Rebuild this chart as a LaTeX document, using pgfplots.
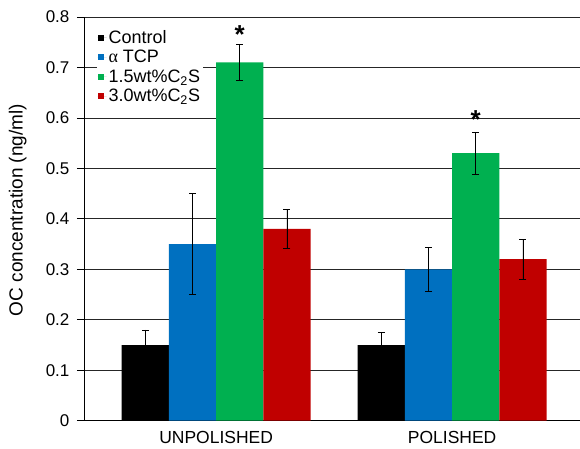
\documentclass[border=0pt]{standalone}
\usepackage{fontspec}
\setmainfont{Liberation Sans}
\newfontfamily\serifgr{Liberation Serif}
\usepackage{pgfplots}
\pgfplotsset{compat=1.18}
\definecolor{cblue}{RGB}{0,112,192}
\definecolor{cgreen}{RGB}{0,176,80}
\definecolor{cred}{RGB}{192,0,0}
\begin{document}
\begin{tikzpicture}[font=\fontsize{17}{20}\selectfont]
\begin{axis}[
  scale only axis,
  width=496pt, height=404pt,
  ymin=0, ymax=0.8,
  xmin=-0.56, xmax=1.54,
  ybar=0pt, bar width=0.2,
  ytick={0,0.1,...,0.8},
  yticklabel style={/pgf/number format/fixed,/pgf/number format/precision=1, xshift=-4pt},
  /pgf/number format/assume math mode=true,
  xtick={0,1}, xticklabels={UNPOLISHED,POLISHED},
  x tick style={draw=none},
  y tick style={black, line width=0.8pt},
  tick align=outside, major tick length=7pt,
  axis x line*=bottom, axis y line*=left,
  axis line style={black, line width=0.8pt, -},
  ymajorgrids, major grid style={black!85, line width=0.8pt},
  tick label style={font=\fontsize{17}{20}\selectfont},
  xticklabel style={font=\fontsize{17.5}{20}\selectfont},
  label style={font=\fontsize{19}{22}\selectfont},
  ylabel={OC concentration (ng/ml)},
  ylabel style={at={(axis description cs:-0.1335,0.522)}, anchor=center},
  legend style={at={(0.025,0.975)}, anchor=north west, draw=none, fill=white,
    font=\fontsize{18}{21}\selectfont, row sep=1.5pt, inner sep=1pt},
  legend cell align=left,
  legend image code/.code={\path (0pt,0pt) -- (9pt,0pt);\fill[#1] (0pt,-3pt) rectangle (6pt,3pt);},
  error bars/y dir=both, error bars/y explicit,
  error bars/error mark options={black, rotate=90, mark size=3.5pt, line width=0.7pt},
  error bars/error bar style={black, line width=0.7pt},
]
\addplot[fill=black, draw=none] coordinates {(0,0.15) +- (0,0.03) (1,0.15) +- (0,0.025)};
\addlegendentry{Control}
\addplot[fill=cblue, draw=none] coordinates {(0,0.35) +- (0,0.10) (1,0.30) +- (0,0.044)};
\addlegendentry{{\serifgr α} TCP}
\addplot[fill=cgreen, draw=none] coordinates {(0,0.71) +- (0,0.036) (1,0.53) +- (0,0.042)};
\addlegendentry{1.5wt\%C\textsubscript{2}S}
\addplot[fill=cred, draw=none] coordinates {(0,0.38) +- (0,0.038) (1,0.32) +- (0,0.039)};
\addlegendentry{3.0wt\%C\textsubscript{2}S}
\node[font=\bfseries\fontsize{26}{26}\selectfont] at (axis cs:0.1,0.765) {*};
\node[font=\bfseries\fontsize{26}{26}\selectfont] at (axis cs:1.1,0.597) {*};
\end{axis}
\path (current axis.south west) ++(-84pt,-28pt) rectangle ++(580pt,449pt);
\end{tikzpicture}
\end{document}
